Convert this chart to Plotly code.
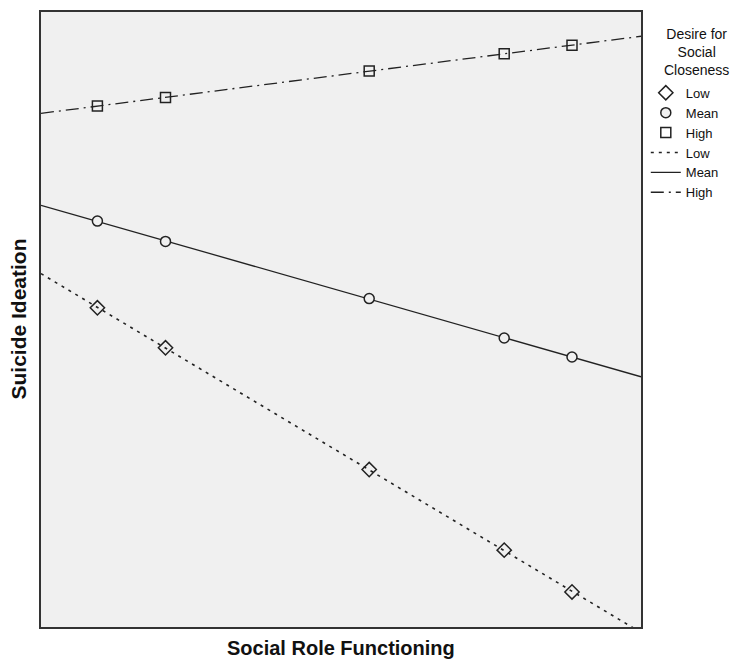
import numpy as np
import plotly.graph_objects as go

# Data (axes have no tick labels, so units are arbitrary 0-100)
social_role_functioning = [9.4, 20.75, 54.7, 77.2, 88.5]
levels = ["Low", "Mean", "High"]
ideation_low = [51.9, 45.4, 25.6, 12.5, 5.7]
ideation_mean = [66.0, 62.7, 53.4, 47.0, 43.9]
ideation_high = [84.7, 86.1, 90.4, 93.2, 94.6]

x_range = [0, 100]
y_range = [0, 100]

series = {"Low": ideation_low, "Mean": ideation_mean, "High": ideation_high}
symbols = {"Low": "diamond-open", "Mean": "circle", "High": "square-open"}
sizes = {"Low": 11, "Mean": 10, "High": 10}
dashes = {"Low": "3px,5px", "Mean": "solid", "High": "13px,5px,2px,5px"}
widths = {"Low": 1.6, "Mean": 1.3, "High": 1.3}

ink = "#222222"
bg = "#f0f0f0"

fig = go.Figure()

# fitted lines (drawn first so markers sit on top)
for i, lvl in enumerate(levels):
    slope, icpt = np.polyfit(social_role_functioning, series[lvl], 1)
    xs = np.array(x_range, dtype=float)
    fig.add_trace(go.Scatter(
        x=xs, y=slope * xs + icpt, mode="lines", name=lvl,
        line=dict(color=ink, width=widths[lvl], dash=dashes[lvl]),
        legendrank=10 + i, showlegend=True, hoverinfo="skip"))

# observed points
for i, lvl in enumerate(levels):
    is_open = symbols[lvl].endswith("-open")
    fig.add_trace(go.Scatter(
        x=social_role_functioning, y=series[lvl], mode="markers", name=lvl,
        marker=dict(symbol=symbols[lvl], size=sizes[lvl],
                    color=ink if is_open else bg,
                    line=dict(color=ink, width=1.5)),
        legendrank=1 + i))

# the page body has an 8px margin, so the figure is 8px smaller than the window
fig.update_layout(
    width=730, height=653,
    margin=dict(l=33, r=97, t=2, b=34),
    paper_bgcolor="white", plot_bgcolor=bg,
    font=dict(family="Liberation Sans, Arial, sans-serif", color="#111111"),
    showlegend=True,
    legend=dict(
        x=1.008, xanchor="left", y=0.893, yanchor="top",
        font=dict(size=13), tracegroupgap=0, itemwidth=30,
        bgcolor="rgba(0,0,0,0)"),
    xaxis=dict(range=x_range, showticklabels=False, ticks="", showgrid=False,
               zeroline=False, showline=True, mirror=True,
               linecolor="#333333", linewidth=1.5),
    yaxis=dict(range=y_range, showticklabels=False, ticks="", showgrid=False,
               zeroline=False, showline=True, mirror=True,
               linecolor="#333333", linewidth=1.5),
    annotations=[
        dict(text="<b>Social Role Functioning</b>", xref="paper", yref="paper",
             x=0.5, y=0, yshift=-21, xanchor="center", yanchor="middle",
             showarrow=False, font=dict(size=20)),
        dict(text="<b>Suicide Ideation</b>", xref="paper", yref="paper",
             x=0, y=0.5, xshift=-23, xanchor="center", yanchor="middle",
             textangle=-90, showarrow=False, font=dict(size=21)),
        dict(text="Desire for<br>Social<br>Closeness", xref="paper", yref="paper",
             x=1.0917, y=0.935, xanchor="center", yanchor="middle", align="center",
             showarrow=False, font=dict(size=14)),
    ],
)

fig.write_html("out.html")
